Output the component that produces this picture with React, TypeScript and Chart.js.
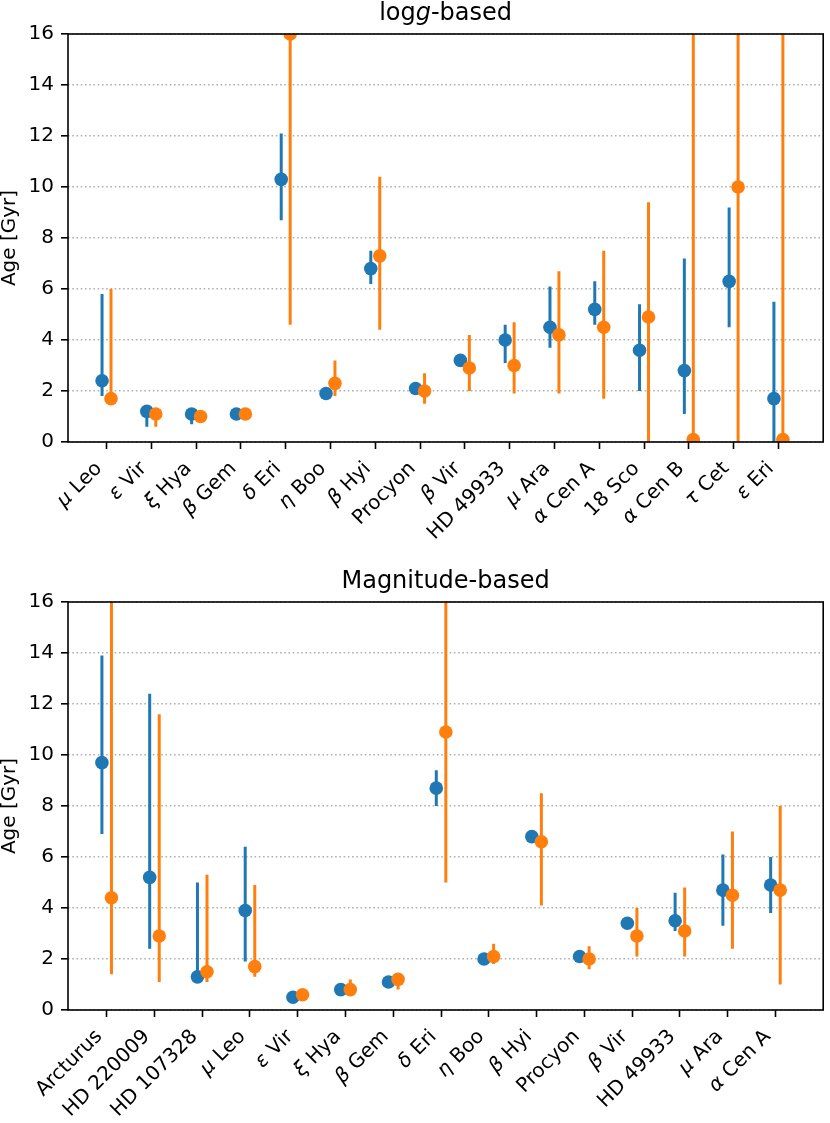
import React, { useEffect, useRef } from 'react';
import { Chart, registerables } from 'chart.js';

Chart.register(...registerables);

const FONT = "'DejaVu Sans', 'Liberation Sans', sans-serif";
const BLUE = '#1f77b4';
const ORANGE = '#ff7f0e';
const TICK_SIZE = 20;
const TITLE_SIZE = 24;

// ---------- top panel: log g-based ----------
const loggTitle = 'log$g$-based';
const loggCats = ['$μ$ Leo', '$ε$ Vir', '$ξ$ Hya', '$β$ Gem', '$δ$ Eri', '$η$ Boo', '$β$ Hyi', 'Procyon', '$β$ Vir', 'HD 49933', '$μ$ Ara', '$α$ Cen A', '18 Sco', '$α$ Cen B', '$τ$ Cet', '$ε$ Eri'];
const loggBlueVal = [2.4, 1.2, 1.1, 1.1, 10.3, 1.9, 6.8, 2.1, 3.2, 4.0, 4.5, 5.2, 3.6, 2.8, 6.3, 1.7];
const loggBlueLo = [1.8, 0.6, 0.7, 1.0, 8.7, 1.8, 6.2, 2.0, 3.1, 3.1, 3.7, 4.6, 2.0, 1.1, 4.5, -1];
const loggBlueHi = [5.8, 1.3, 1.2, 1.2, 12.1, 2.0, 7.5, 2.2, 3.3, 4.6, 6.1, 6.3, 5.4, 7.2, 9.2, 5.5];
const loggOrangeVal = [1.7, 1.1, 1.0, 1.1, 16.0, 2.3, 7.3, 2.0, 2.9, 3.0, 4.2, 4.5, 4.9, 0.1, 10.0, 0.1];
const loggOrangeLo = [1.6, 0.6, 0.9, 1.0, 4.6, 1.8, 4.4, 1.5, 2.0, 1.9, 1.9, 1.7, -1, -1, -1, -1];
const loggOrangeHi = [6.0, 1.2, 1.1, 1.2, 30, 3.2, 10.4, 2.7, 4.2, 4.7, 6.7, 7.5, 9.4, 30, 30, 30];

// ---------- bottom panel: magnitude-based ----------
const magTitle = 'Magnitude-based';
const magCats = ['Arcturus', 'HD 220009', 'HD 107328', '$μ$ Leo', '$ε$ Vir', '$ξ$ Hya', '$β$ Gem', '$δ$ Eri', '$η$ Boo', '$β$ Hyi', 'Procyon', '$β$ Vir', 'HD 49933', '$μ$ Ara', '$α$ Cen A'];
const magBlueVal = [9.7, 5.2, 1.3, 3.9, 0.5, 0.8, 1.1, 8.7, 2.0, 6.8, 2.1, 3.4, 3.5, 4.7, 4.9];
const magBlueLo = [6.9, 2.4, 1.2, 1.9, 0.45, 0.75, 1.0, 8.0, 1.9, 6.7, 2.0, 3.3, 3.1, 3.3, 3.8];
const magBlueHi = [13.9, 12.4, 5.0, 6.4, 0.55, 0.85, 1.2, 9.4, 2.1, 6.9, 2.2, 3.5, 4.6, 6.1, 6.0];
const magOrangeVal = [4.4, 2.9, 1.5, 1.7, 0.6, 0.8, 1.2, 10.9, 2.1, 6.6, 2.0, 2.9, 3.1, 4.5, 4.7];
const magOrangeLo = [1.4, 1.1, 1.1, 1.3, 0.5, 0.6, 0.8, 5.0, 1.8, 4.1, 1.6, 2.1, 2.1, 2.4, 1.0];
const magOrangeHi = [30, 11.6, 5.3, 4.9, 0.7, 1.2, 1.3, 30, 2.6, 8.5, 2.5, 4.0, 4.8, 7.0, 8.0];

const yTicks = [0, 2, 4, 6, 8, 10, 12, 14, 16];
const yLabel = 'Age [Gyr]';

type Part = { t: string; it: boolean };

function parseRich(s: string): Part[] {
  return s
    .split('$')
    .map((t, i) => ({ t, it: i % 2 === 1 }))
    .filter((p) => p.t.length > 0);
}

function drawRich(ctx: CanvasRenderingContext2D, parts: Part[], size: number, x: number, y: number, align: 'left' | 'center' | 'right') {
  const fonts = parts.map((p) => `${p.it ? 'italic ' : ''}${size}px ${FONT}`);
  const widths = parts.map((p, i) => {
    ctx.font = fonts[i];
    return ctx.measureText(p.t).width;
  });
  const total = widths.reduce((a, b) => a + b, 0);
  let start = align === 'right' ? x - total : align === 'center' ? x - total / 2 : x;
  ctx.textAlign = 'left';
  parts.forEach((p, i) => {
    ctx.font = fonts[i];
    ctx.fillText(p.t, start, y);
    start += widths[i];
  });
}

type PanelProps = {
  title: string;
  cats: string[];
  bVal: number[];
  bLo: number[];
  bHi: number[];
  oVal: number[];
  oLo: number[];
  oHi: number[];
  xmin: number;
  xmax: number;
  height: number;
  axisH: number;
};

const OFF = 0.1;

function barData(lo: number[], hi: number[], off: number) {
  const out: { x: number; y: number | null }[] = [];
  lo.forEach((l, i) => {
    out.push({ x: i + off, y: l });
    out.push({ x: i + off, y: hi[i] });
    out.push({ x: i + off, y: null });
  });
  return out;
}

function pointData(v: number[], off: number) {
  return v.map((y, i) => ({ x: i + off, y }));
}

function Panel(props: PanelProps) {
  const ref = useRef<HTMLCanvasElement | null>(null);
  useEffect(() => {
    if (!ref.current) return;
    const { title, cats, bVal, bLo, bHi, oVal, oLo, oHi, xmin, xmax, axisH } = props;
    const decor = {
      id: 'decor',
      afterDraw(chart: any) {
        const ctx: CanvasRenderingContext2D = chart.ctx;
        const { left, top, right, bottom } = chart.chartArea;
        ctx.save();
        ctx.setLineDash([]);
        ctx.strokeStyle = '#000';
        ctx.lineWidth = 1.6;
        ctx.strokeRect(left, top, right - left, bottom - top);
        ctx.fillStyle = '#000';
        ctx.textBaseline = 'alphabetic';
        drawRich(ctx, parseRich(title), TITLE_SIZE, (left + right) / 2, top - 14, 'center');
        const xs = chart.scales.x;
        const a = 0.76 * TICK_SIZE;
        const d = 0.24 * TICK_SIZE;
        cats.forEach((c, i) => {
          const px = xs.getPixelForValue(i);
          ctx.save();
          ctx.translate(px - d / Math.SQRT2 - 0.5, bottom + 16.5 + a / Math.SQRT2);
          ctx.rotate(-Math.PI / 4);
          drawRich(ctx, parseRich(c), TICK_SIZE, 0, 0, 'right');
          ctx.restore();
        });
        ctx.restore();
      },
    };
    const common = { showLine: true, pointRadius: 0, borderWidth: 3, spanGaps: false, clip: 0, borderCapStyle: 'butt' };
    const pts = { showLine: false, pointRadius: 6.8, pointHoverRadius: 6.8, pointBorderWidth: 0, clip: 0 };
    const chart = new Chart(ref.current, {
      type: 'line',
      data: {
        datasets: [
          { ...common, data: barData(bLo, bHi, -OFF), borderColor: BLUE, order: 4 } as any,
          { ...pts, data: pointData(bVal, -OFF), backgroundColor: BLUE, borderColor: BLUE, pointBackgroundColor: BLUE, order: 3 } as any,
          { ...common, data: barData(oLo, oHi, OFF), borderColor: ORANGE, order: 2 } as any,
          { ...pts, data: pointData(oVal, OFF), backgroundColor: ORANGE, borderColor: ORANGE, pointBackgroundColor: ORANGE, order: 1 } as any,
        ],
      },
      options: {
        animation: false,
        responsive: false,
        maintainAspectRatio: false,
        events: [],
        layout: { padding: { top: 34, right: 2, left: 0, bottom: 0 } },
        plugins: { legend: { display: false }, title: { display: false }, tooltip: { enabled: false } },
        scales: {
          x: {
            type: 'linear',
            min: xmin,
            max: xmax,
            afterBuildTicks: (s: any) => {
              s.ticks = cats.map((_, i) => ({ value: i }));
            },
            afterFit: (s: any) => {
              s.height = axisH;
            },
            ticks: { display: false },
            grid: { drawOnChartArea: false, drawTicks: true, tickLength: 7, tickColor: '#000', tickWidth: 1.6 },
            border: { display: false },
          },
          y: {
            type: 'linear',
            min: 0,
            max: 16,
            afterBuildTicks: (s: any) => {
              s.ticks = yTicks.map((v) => ({ value: v }));
            },
            afterFit: (s: any) => {
              s.width = 68;
            },
            ticks: { color: '#000', padding: 7, font: { family: FONT, size: TICK_SIZE } },
            grid: { color: '#b0b0b0', lineWidth: 1.6, tickLength: 7, tickColor: '#000', tickWidth: 1.6, tickBorderDash: [] },
            border: { display: false, dash: [1.6, 2.64] },
            title: { display: true, text: yLabel, color: '#000', padding: 0, font: { family: FONT, size: TICK_SIZE, lineHeight: 1 } },
          },
        },
      } as any,
      plugins: [decor],
    });
    return () => chart.destroy();
  }, []);
  return <canvas ref={ref} width={830} height={props.height} style={{ display: 'block', width: 830, height: props.height }} />;
}

export default function App() {
  return (
    <div style={{ position: 'absolute', left: 0, top: 0, width: 830, height: 1123, background: '#fff' }}>
      <Panel title={loggTitle} cats={loggCats} bVal={loggBlueVal} bLo={loggBlueLo} bHi={loggBlueHi} oVal={loggOrangeVal} oLo={loggOrangeLo} oHi={loggOrangeHi} xmin={-0.86} xmax={16} height={568} axisH={126} />
      <Panel title={magTitle} cats={magCats} bVal={magBlueVal} bLo={magBlueLo} bHi={magBlueHi} oVal={magOrangeVal} oLo={magOrangeLo} oHi={magOrangeHi} xmin={-0.81} xmax={15} height={555} axisH={113} />
    </div>
  );
}
